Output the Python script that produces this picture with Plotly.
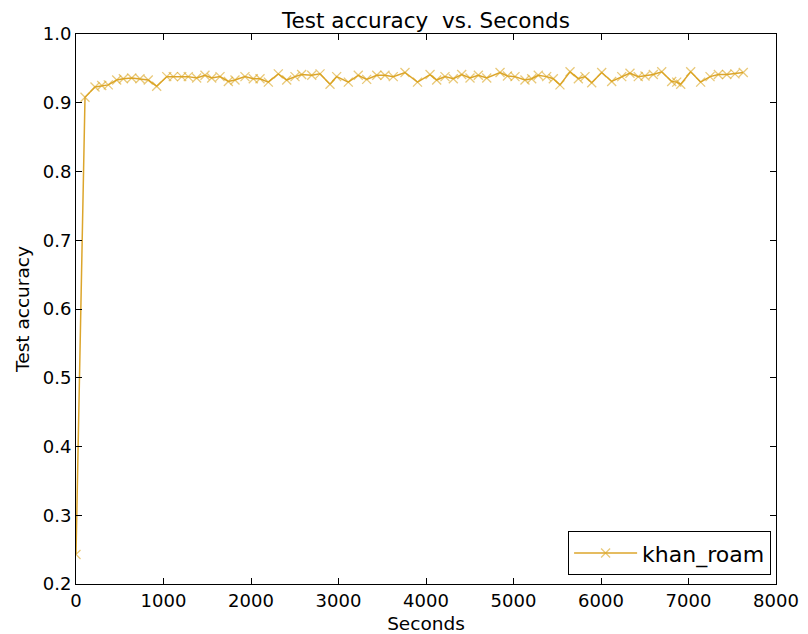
import plotly.graph_objects as go

# Data
seconds = [0, 103, 217, 294, 369, 465, 541, 637, 731, 826, 922, 1037, 1112, 1208,
           1283, 1379, 1474, 1551, 1646, 1741, 1817, 1931, 2026, 2103, 2198, 2312,
           2408, 2503, 2579, 2694, 2789, 2903, 2979, 3112, 3226, 3322, 3437, 3531,
           3626, 3760, 3903, 4046, 4122, 4217, 4312, 4408, 4503, 4598, 4694, 4846,
           4931, 5017, 5131, 5208, 5283, 5379, 5455, 5531, 5646, 5741, 5817, 5894,
           6008, 6122, 6237, 6331, 6426, 6503, 6598, 6694, 6808, 6865, 6911, 7025,
           7139, 7246, 7341, 7437, 7531, 7626]
accuracy = [0.243, 0.908, 0.923, 0.925, 0.926, 0.933, 0.935, 0.936, 0.935, 0.933,
            0.924, 0.938, 0.938, 0.938, 0.938, 0.936, 0.940, 0.936, 0.938, 0.931,
            0.933, 0.938, 0.935, 0.935, 0.930, 0.942, 0.933, 0.938, 0.941, 0.940,
            0.942, 0.927, 0.938, 0.930, 0.940, 0.934, 0.940, 0.940, 0.938, 0.944,
            0.930, 0.941, 0.933, 0.938, 0.935, 0.941, 0.936, 0.940, 0.936, 0.944,
            0.939, 0.938, 0.933, 0.935, 0.940, 0.938, 0.935, 0.926, 0.945, 0.935,
            0.938, 0.929, 0.944, 0.931, 0.938, 0.943, 0.938, 0.939, 0.941, 0.945,
            0.931, 0.930, 0.927, 0.945, 0.930, 0.938, 0.941, 0.941, 0.942, 0.944]
series_name = "khan_roam"
x_ticks = [0, 1000, 2000, 3000, 4000, 5000, 6000, 7000, 8000]
y_ticks = [0.2, 0.3, 0.4, 0.5, 0.6, 0.7, 0.8, 0.9, 1.0]

FONT = "DejaVu Sans"
LINE_COL = "rgba(218,160,32,0.95)"
MARK_COL = "rgba(218,165,32,0.6)"

# page body has an 8px margin: figure is sized to fit inside the window
W, H = 800, 626

fig = go.Figure()
fig.add_trace(go.Scatter(
    x=seconds, y=accuracy, name=series_name, mode="lines+markers",
    line=dict(color=LINE_COL, width=1.5),
    marker=dict(symbol="x-thin", size=9, color=MARK_COL,
                line=dict(color=MARK_COL, width=1.3)),
))

axis_common = dict(
    showgrid=False, zeroline=False, showline=True, linecolor="black", linewidth=1,
    mirror="ticks", ticks="inside", ticklen=6, tickwidth=1, tickcolor="black",
    tickfont=dict(family=FONT, size=18, color="black"),
)
fig.update_xaxes(range=[0, 8000], tickvals=x_ticks,
                 ticktext=[str(v) for v in x_ticks],
                 title=dict(text="Seconds", font=dict(family=FONT, size=18.5, color="black"),
                            standoff=11),
                 **axis_common)
fig.update_yaxes(range=[0.2, 1.0], tickvals=y_ticks,
                 ticktext=[f"{v:.1f}" for v in y_ticks],
                 title=dict(text="Test accuracy", font=dict(family=FONT, size=18.5, color="black"),
                            standoff=8),
                 **axis_common)

fig.update_layout(
    width=W, height=H,
    margin=dict(l=68, r=32, t=26, b=50, autoexpand=False),
    paper_bgcolor="white", plot_bgcolor="white",
    title=dict(text="Test accuracy  vs. Seconds", x=0.5, xref="paper",
               y=1 - 12.5 / H, yref="container", yanchor="middle", xanchor="center",
               font=dict(family=FONT, size=21.5, color="black")),
    showlegend=True,
    legend=dict(x=0.993, y=0.016, xanchor="right", yanchor="bottom",
                bgcolor="white", bordercolor="black", borderwidth=1,
                font=dict(family=FONT, size=22, color="black"),
                itemwidth=63),
)

fig.write_html("out.html")
